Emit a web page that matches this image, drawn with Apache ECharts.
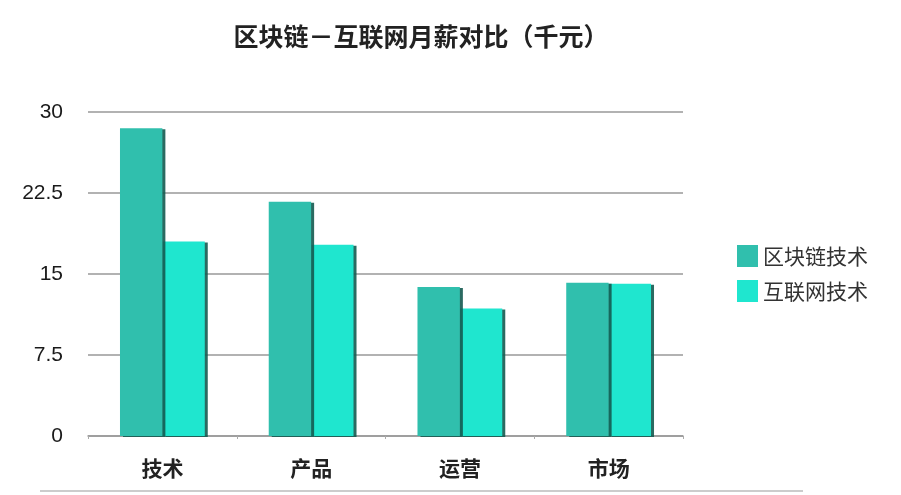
<!DOCTYPE html>
<html>
<head>
<meta charset="utf-8">
<script src="https://cdn.jsdelivr.net/npm/echarts@6/dist/echarts.min.js"></script>
<style>
  html, body { margin: 0; padding: 0; background: #fff; }
  #main { width: 901px; height: 495px; }
</style>
</head>
<body>
<div id="main"></div>
<script>
// 月薪数据（千元）
var categories = ['技术', '产品', '运营', '市场'];
var blockchain = [28.5, 21.7, 13.8, 14.2];
var internet = [18.0, 17.7, 11.8, 14.1];
var seriesNames = ['区块链技术', '互联网技术'];
var yTicks = [0, 7.5, 15, 22.5, 30];

var font = '"Noto Sans CJK SC", "Noto Sans", sans-serif';
var numFont = '"Liberation Sans", Arial, sans-serif';
var chart = echarts.init(document.getElementById('main'));

var option = {
  backgroundColor: '#fff',
  title: {
    text: '区块链－互联网月薪对比（千元）',
    left: 416,
    top: 19,
    textAlign: 'center',
    textStyle: {
      fontFamily: font,
      fontSize: 25,
      fontWeight: 'bold',
      color: '#222'
    }
  },
  legend: {
    orient: 'vertical',
    left: 732,
    top: 240,
    itemWidth: 21,
    itemHeight: 22,
    itemGap: 13,
    icon: 'rect',
    data: seriesNames,
    textStyle: { fontFamily: font, fontSize: 21, color: '#333' }
  },
  grid: {
    left: 88,
    right: 218,
    top: 112,
    bottom: 59
  },
  xAxis: {
    type: 'category',
    data: categories,
    axisLine: { lineStyle: { color: '#999', width: 1.5 } },
    axisTick: { show: true, length: 3, lineStyle: { color: '#aaa' } },
    axisLabel: {
      margin: 22,
      fontFamily: font,
      fontSize: 21,
      fontWeight: 'bold',
      color: '#222'
    }
  },
  yAxis: {
    type: 'value',
    min: yTicks[0],
    max: yTicks[yTicks.length - 1],
    interval: 7.5,
    axisLine: { show: false },
    axisTick: { show: false },
    axisLabel: {
      margin: 25,
      fontFamily: numFont,
      fontSize: 21,
      color: '#1a1a1a'
    },
    splitLine: { lineStyle: { color: '#999', width: 1.5 } }
  },
  series: [{
    name: seriesNames[0],
    type: 'bar',
    data: blockchain,
    z: 3,
    barGap: '0%',
    barCategoryGap: '43%',
    itemStyle: {
      color: '#30BFAD',
      shadowColor: 'rgba(20, 90, 80, 0.9)',
      shadowOffsetX: 3,
      shadowOffsetY: 1,
      shadowBlur: 0
    }
  }, {
    name: seriesNames[1],
    type: 'bar',
    data: internet,
    z: 2,
    itemStyle: {
      color: '#1FE6CF',
      shadowColor: 'rgba(20, 90, 80, 0.9)',
      shadowOffsetX: 3,
      shadowOffsetY: 1,
      shadowBlur: 0
    }
  }],
  graphic: [{
    type: 'line',
    shape: { x1: 40, y1: 491, x2: 803, y2: 491 },
    style: { stroke: '#ccc', lineWidth: 2 }
  }]
};

chart.setOption(option);
</script>
</body>
</html>
